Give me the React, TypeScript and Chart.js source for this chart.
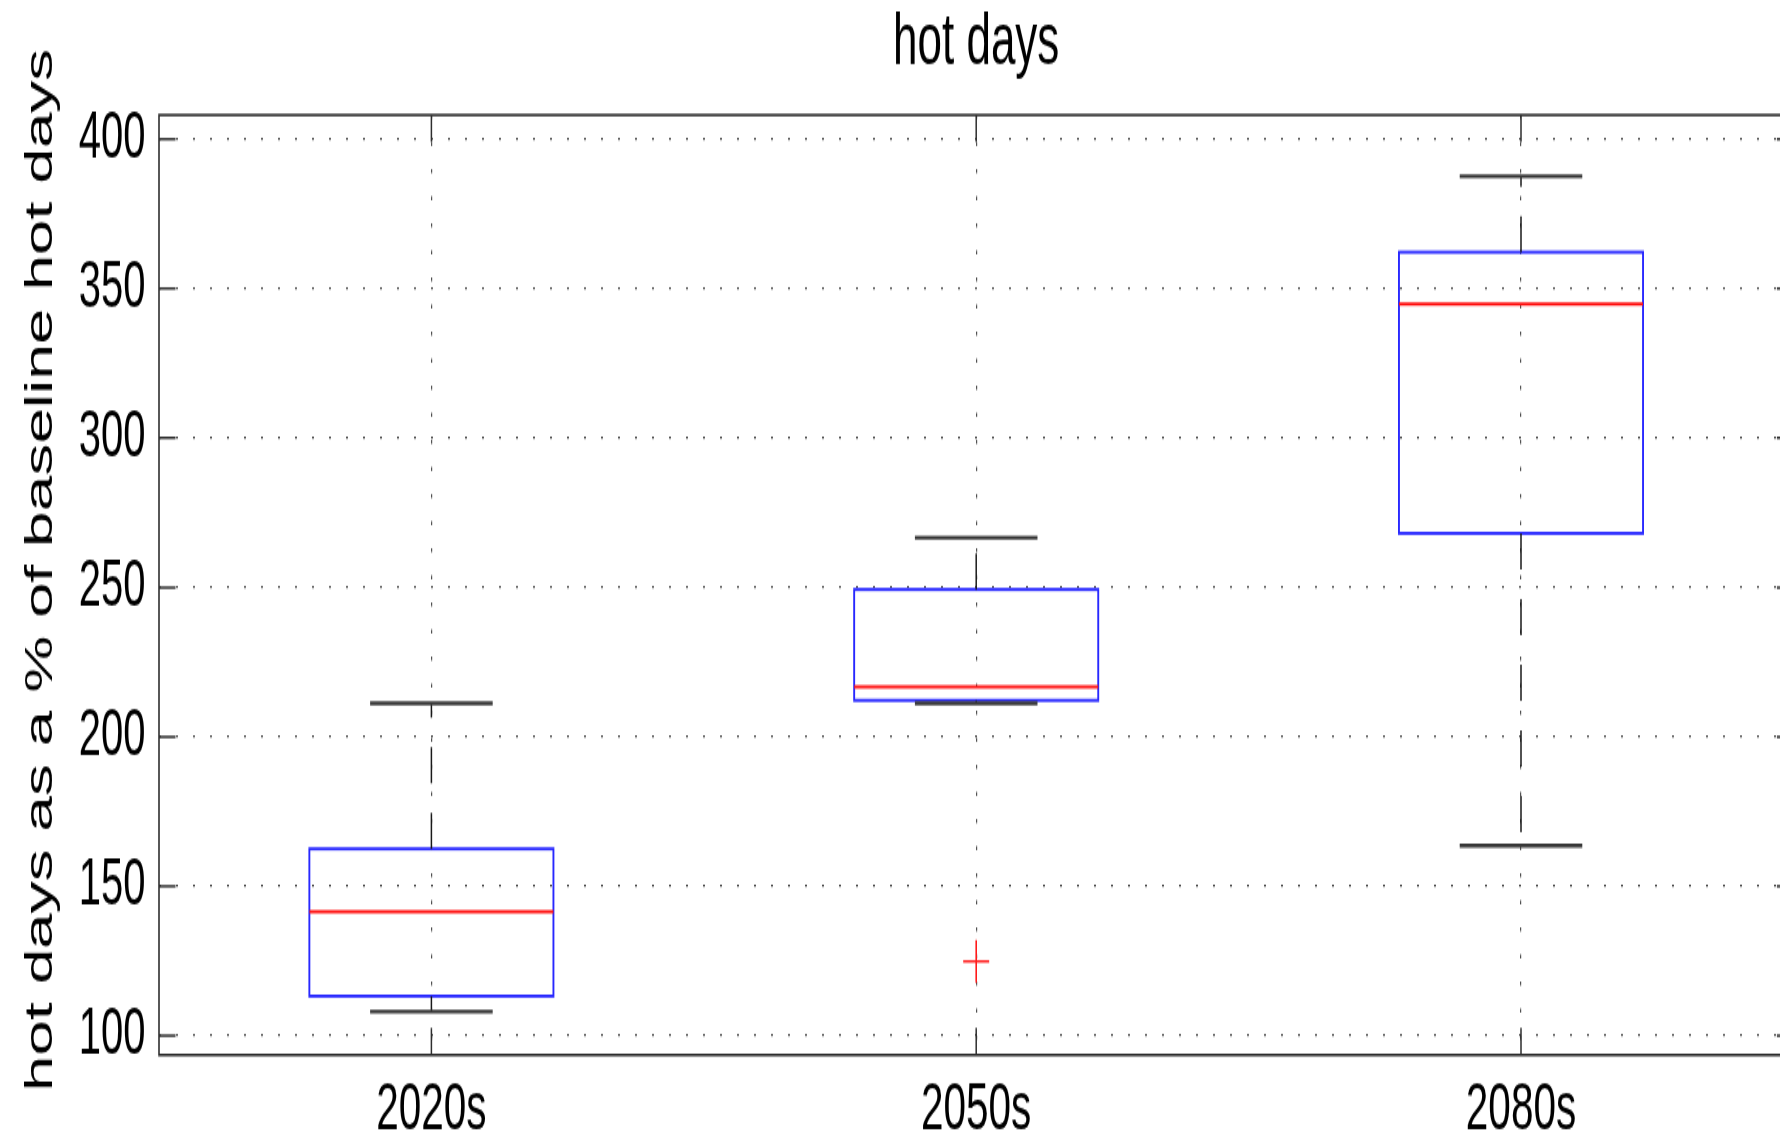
import React, { useEffect, useRef } from 'react';
import { Chart, registerables } from 'chart.js';

Chart.register(...registerables);

// ---- data ----
const categories = ['2020s', '2050s', '2080s'];
const lowerWhisker = [108.0, 211.2, 163.6];
const q1 = [113.2, 212.2, 268.1];
const medians = [141.5, 216.7, 344.8];
const q3 = [162.5, 249.3, 362.2];
const upperWhisker = [211.2, 266.6, 387.6];
const outlierCategories = ['2050s'];
const outlierValues = [124.8];
const yTicks = [100, 150, 200, 250, 300, 350, 400];
const yMin = 93.5;
const yMax = 408.1;
const titleText = 'hot days';
const yAxisTitle = 'hot days as a % of baseline hot days';

// ---- layout / style ----
const W = 1808;
const H = 694;
const STRETCH = 1139 / H;
const FONT = "'Liberation Sans', Arial, Helvetica, sans-serif";
const BOX_WIDTH = 0.448;
const CAP_WIDTH = 0.225;
const TICK_LEN = 16.5;

const boxplotPlugin = {
  id: 'boxplotExtras',
  afterDatasetsDraw(chart: any) {
    const { ctx } = chart;
    const x = chart.scales.x;
    const y = chart.scales.y;
    const catW = x.getPixelForValue(1) - x.getPixelForValue(0);
    const meta = chart.getDatasetMeta(0);
    ctx.save();
    // box outlines, centred on the quartile edges of the floating bars
    meta.data.forEach((bar: any) => {
      const p = bar.getProps(['x', 'y', 'base', 'width'], true);
      const t = Math.min(p.y, p.base);
      const h = Math.abs(p.base - p.y);
      ctx.strokeStyle = 'rgb(40,40,255)';
      ctx.lineWidth = 1.9;
      ctx.strokeRect(p.x - p.width / 2, t, p.width, h);
    });
    categories.forEach((_c, i) => {
      const cx = x.getPixelForValue(i);
      // dashed whiskers
      ctx.strokeStyle = '#1a1a1a';
      ctx.lineWidth = 1.5;
      ctx.setLineDash([22, 18]);
      ctx.beginPath();
      ctx.moveTo(cx, y.getPixelForValue(q3[i]));
      ctx.lineTo(cx, y.getPixelForValue(upperWhisker[i]));
      ctx.stroke();
      ctx.beginPath();
      ctx.moveTo(cx, y.getPixelForValue(q1[i]));
      ctx.lineTo(cx, y.getPixelForValue(lowerWhisker[i]));
      ctx.stroke();
      ctx.setLineDash([]);
      // whisker caps
      ctx.strokeStyle = '#383838';
      ctx.lineWidth = 2.4;
      const hw = (catW * CAP_WIDTH) / 2;
      [upperWhisker[i], lowerWhisker[i]].forEach((v) => {
        const py = y.getPixelForValue(v);
        ctx.beginPath();
        ctx.moveTo(cx - hw, py);
        ctx.lineTo(cx + hw, py);
        ctx.stroke();
      });
      // median
      const bw = (catW * BOX_WIDTH) / 2;
      const pm = y.getPixelForValue(medians[i]);
      ctx.strokeStyle = '#ff1010';
      ctx.lineWidth = 2;
      ctx.beginPath();
      ctx.moveTo(cx - bw, pm);
      ctx.lineTo(cx + bw, pm);
      ctx.stroke();
    });
    ctx.restore();
  },
  afterDraw(chart: any) {
    const { ctx, chartArea } = chart;
    const { left, right, top, bottom } = chartArea;
    const x = chart.scales.x;
    const y = chart.scales.y;
    ctx.save();
    // frame
    ctx.strokeStyle = '#2e2e2e';
    ctx.lineWidth = 1.6;
    ctx.strokeRect(left, top, right - left, bottom - top);
    // inward ticks
    ctx.lineWidth = 1.5;
    yTicks.forEach((v) => {
      const py = y.getPixelForValue(v);
      ctx.beginPath();
      ctx.moveTo(left, py);
      ctx.lineTo(left + TICK_LEN, py);
      ctx.moveTo(right, py);
      ctx.lineTo(right - TICK_LEN, py);
      ctx.stroke();
    });
    categories.forEach((_c, i) => {
      const px = x.getPixelForValue(i);
      ctx.beginPath();
      ctx.moveTo(px, bottom);
      ctx.lineTo(px, bottom - TICK_LEN);
      ctx.moveTo(px, top);
      ctx.lineTo(px, top + TICK_LEN);
      ctx.stroke();
    });
    // title
    ctx.fillStyle = '#000';
    ctx.font = `44px ${FONT}`;
    ctx.textAlign = 'center';
    ctx.textBaseline = 'alphabetic';
    ctx.fillText(titleText, (left + right) / 2, 38.6);
    // y axis title
    ctx.translate(51.7, 347.3);
    ctx.rotate(-Math.PI / 2);
    ctx.font = `39px ${FONT}`;
    ctx.textAlign = 'center';
    ctx.fillText(yAxisTitle, 0, 0);
    ctx.restore();
  },
};

export default function App() {
  const ref = useRef<HTMLCanvasElement>(null);

  useEffect(() => {
    if (!ref.current) return;
    const chart = new Chart(ref.current, {
      type: 'bar',
      data: {
        labels: categories,
        datasets: [
          {
            type: 'bar',
            label: 'box',
            data: categories.map((_c, i) => [q1[i], q3[i]]),
            backgroundColor: 'rgba(0,0,0,0)',
            borderWidth: 0,
            categoryPercentage: 1,
            barPercentage: BOX_WIDTH,
          } as any,
          {
            type: 'scatter',
            label: 'outliers',
            data: outlierCategories.map((c, k) => ({ x: c, y: outlierValues[k] })),
            pointStyle: 'cross',
            radius: 13,
            borderColor: '#ff1a1a',
            backgroundColor: '#ff1a1a',
            borderWidth: 1.6,
          } as any,
        ],
      },
      options: {
        responsive: false,
        animation: false,
        devicePixelRatio: 1,
        layout: { padding: { left: 0, right: 8, top: 70.07, bottom: 0 } },
        plugins: {
          legend: { display: false },
          tooltip: { enabled: false },
          title: { display: false },
        },
        scales: {
          x: {
            type: 'category',
            offset: true,
            grid: {
              offset: false,
              color: '#525252',
              lineWidth: 1.2,
              drawTicks: false,
            },
            border: { display: false, dash: [2.5, 14] },
            ticks: {
              color: '#000',
              padding: 9.5,
              font: { family: FONT, size: 40.5 },
              maxRotation: 0,
              autoSkip: false,
            },
            afterFit: (scale: any) => {
              scale.height = 51.2;
            },
          },
          y: {
            type: 'linear',
            min: yMin,
            max: yMax,
            grid: {
              color: '#525252',
              lineWidth: 1.2,
              drawTicks: false,
            },
            border: { display: false, dash: [2, 15] },
            ticks: {
              color: '#000',
              padding: 13.5,
              font: { family: FONT, size: 40 },
            },
            afterBuildTicks: (scale: any) => {
              scale.ticks = yTicks.map((v) => ({ value: v }));
            },
            afterFit: (scale: any) => {
              scale.width = 159;
            },
          },
        },
      },
      plugins: [boxplotPlugin],
    } as any);
    return () => chart.destroy();
  }, []);

  return (
    <div
      style={{
        position: 'fixed',
        left: 0,
        top: 0,
        width: 1780,
        height: 1139,
        overflow: 'hidden',
        background: '#fff',
      }}
    >
      <div
        style={{
          width: W,
          height: H,
          transform: `scaleY(${STRETCH})`,
          transformOrigin: '0 0',
        }}
      >
        <canvas ref={ref} width={W} height={H} style={{ display: 'block' }} />
      </div>
    </div>
  );
}
